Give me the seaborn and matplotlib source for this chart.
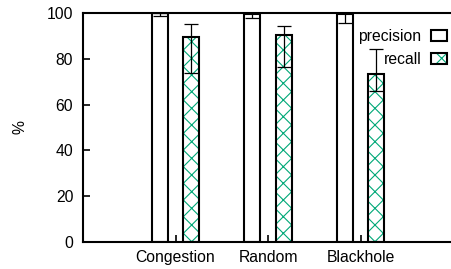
import numpy as np
import pandas as pd
import seaborn as sns
from matplotlib import pyplot as plt
from matplotlib.colors import to_rgba
from matplotlib.patches import Patch

categories = ['Congestion', 'Random', 'Blackhole']
precision = [99.8, 99.6, 99.6]
precision_low = [98.8, 97.9, 95.6]
precision_high = [100, 100, 100]
recall = [89.5, 90.6, 73.4]
recall_low = [73.6, 76.4, 66.0]
recall_high = [95.2, 94.3, 84.3]

green = '#00a878'

sns.set_style('white')
plt.rcParams['font.family'] = ['Liberation Sans', 'DejaVu Sans']
plt.rcParams['font.size'] = 11.3
plt.rcParams['text.color'] = 'black'
plt.rcParams['axes.labelcolor'] = 'black'
plt.rcParams['xtick.color'] = 'black'
plt.rcParams['ytick.color'] = 'black'
plt.rcParams['hatch.linewidth'] = 0.8

df = pd.DataFrame({
    'case': categories * 2,
    'metric': ['precision'] * 3 + ['recall'] * 3,
    'value': precision + recall,
})

fig = plt.figure(figsize=(4.52, 2.69), dpi=100)
ax = fig.add_axes([83 / 452, 27 / 269, 370 / 452, 229 / 269])

sns.barplot(data=df, x='case', y='value', hue='metric', order=categories,
            hue_order=['precision', 'recall'], width=0.68, gap=0.49,
            palette=['white', 'white'], edgecolor='black', linewidth=1.5,
            errorbar=None, legend=False, ax=ax)

# recall bars get green cross-hatching with a black outline
for p in ax.patches[3:6]:
    p.set_hatch('xx')
    p._hatch_color = to_rgba(green)

# error bars (min / max)
off = 0.17
xs = np.arange(len(categories))
ax.errorbar(xs - off, precision,
            yerr=[np.subtract(precision, precision_low), np.subtract(precision_high, precision)],
            fmt='none', ecolor='black', elinewidth=0.9, capsize=5, capthick=0.9, zorder=5)
ax.errorbar(xs + off, recall,
            yerr=[np.subtract(recall, recall_low), np.subtract(recall_high, recall)],
            fmt='none', ecolor='black', elinewidth=0.9, capsize=5, capthick=0.9, zorder=5)

ax.set_xlim(-1.0, 3.0)
ax.set_ylim(0, 100)
ax.set_yticks(range(0, 101, 20))
ax.set_xlabel('')
ax.set_ylabel('%')
ax.yaxis.set_label_coords(-56 / 370, 0.5)

for s in ax.spines.values():
    s.set_linewidth(1.5)
    s.set_color('black')
ax.tick_params(axis='y', direction='in', length=5, width=1.2, pad=7, left=True)
ax.tick_params(axis='x', direction='in', length=5, width=1.2, pad=6, bottom=True)

handles = [Patch(facecolor='white', edgecolor='black', linewidth=1.5),
           Patch(facecolor='white', edgecolor='black', hatch='xx', linewidth=1.5)]
leg = ax.legend(handles, ['precision', 'recall'], loc='upper right',
                bbox_to_anchor=(0.985, 0.93), frameon=False, markerfirst=False,
                handlelength=1.05, handleheight=0.65, handletextpad=0.6,
                labelspacing=0.5, borderpad=0, borderaxespad=0)
h = leg.legend_handles[1]
h.set_hatch('xx')
h._hatch_color = to_rgba(green)

fig.savefig('out.png', dpi=100)
